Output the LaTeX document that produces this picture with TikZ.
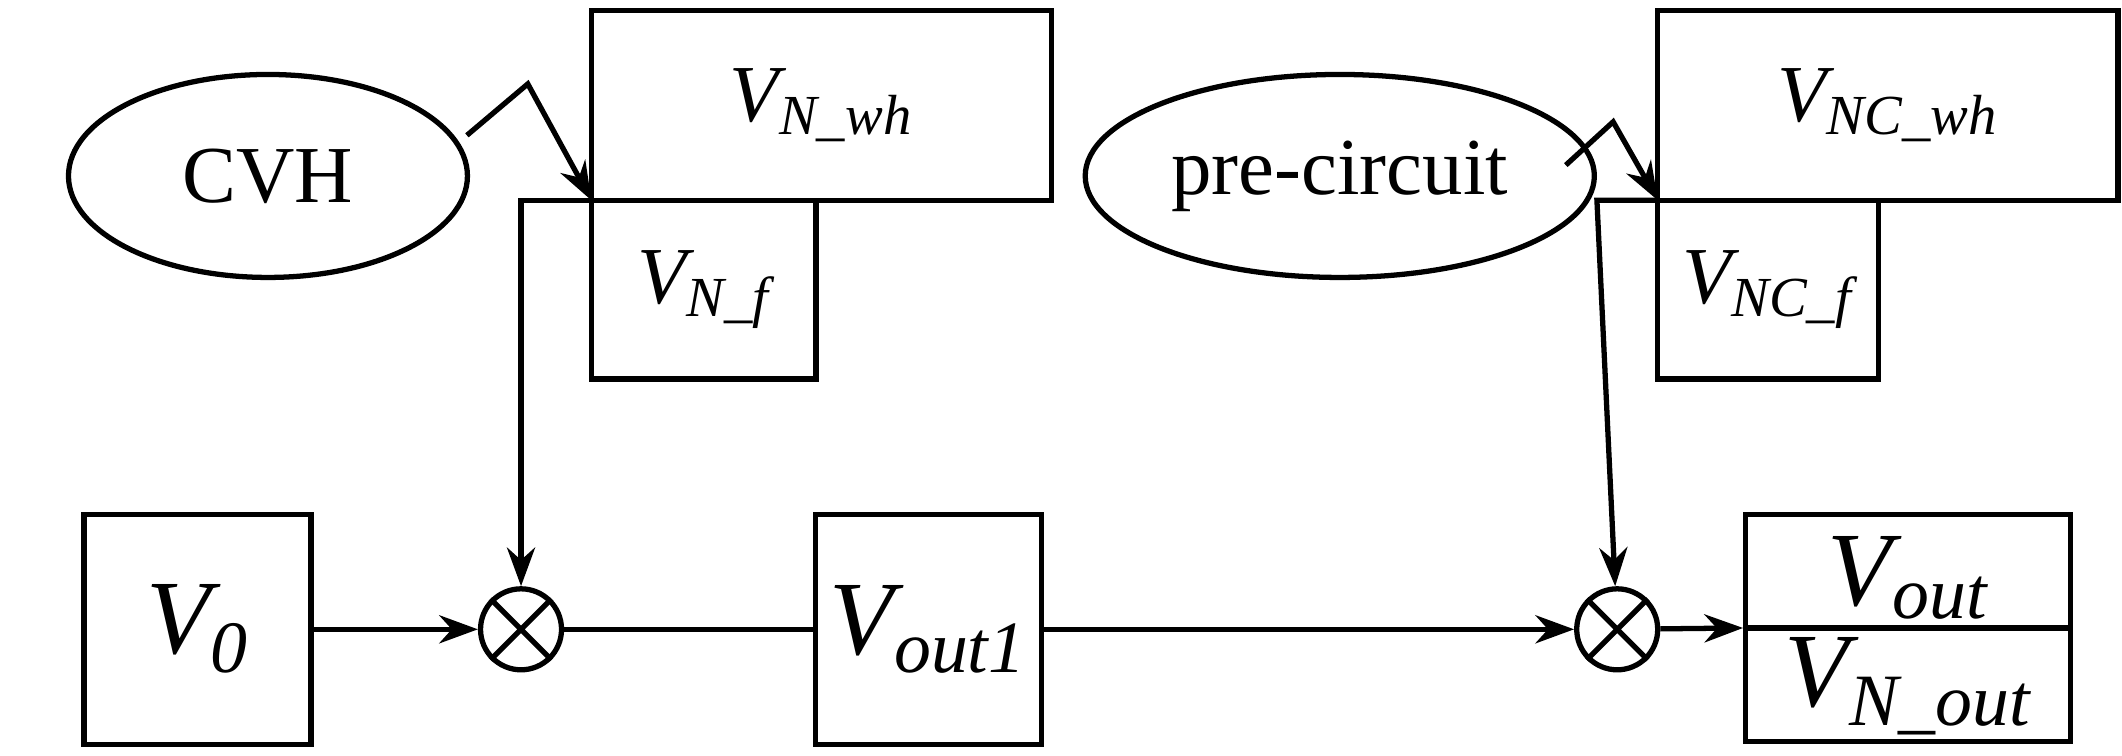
\documentclass[tikz,border=0pt]{standalone}
\usepackage{fontspec}
\setmainfont{Liberation Serif}
\usetikzlibrary{shapes.geometric,arrows.meta}
\begin{document}
\begin{tikzpicture}[x=0.01353cm,y=-0.01353cm,
  box/.style={draw,line width=1.5pt,inner sep=0pt},
  ln/.style={line width=1.5pt},
  ar/.style={ln,-{Stealth[length=11pt,width=8pt]}},
  lbl/.style={font=\fontsize{23}{27}\selectfont\itshape},
  big/.style={font=\fontsize{30}{34}\selectfont\itshape}]
\useasboundingbox (0,0) rectangle (1568,558);
% CVH branch
\node[draw,ellipse,line width=1.5pt,minimum width=3.99cm,minimum height=2.03cm,font=\fontsize{23}{27}\selectfont] (cvh) at (198,130) {CVH};
\draw[box] (437,8) rectangle (777,148);
\node[lbl] (nwh) at (607,78) {V\textsubscript{N\_wh}};
\draw[box] (437,148) rectangle (603,280);
\node[lbl] (nf) at (520,214) {V\textsubscript{N\_f}};
\coordinate (z1) at (345,100);
\coordinate (z2) at (390,62);
\coordinate (t1) at (437,148);
\draw[ar] (z1) -- (z2) -- (t1);
\coordinate (c1) at (385,148);
% pre-circuit branch
\node[draw,ellipse,line width=1.5pt,minimum width=4.47cm,minimum height=2.03cm,font=\fontsize{23}{27}\selectfont] (pc) at (990,130) {pre-circuit};
\draw[box] (1225,8) rectangle (1565,148);
\node[lbl] (ncwh) at (1395,78) {V\textsubscript{NC\_wh}};
\draw[box] (1225,148) rectangle (1388,280);
\node[lbl] (ncf) at (1306,214) {V\textsubscript{NC\_f}};
\coordinate (z3) at (1157,122);
\coordinate (z4) at (1192,90);
\coordinate (t2) at (1225,148);
\draw[ar] (z3) -- (z4) -- (t2);
\coordinate (c2) at (1180,148);
% bottom chain
\node[box,big,minimum width=2.27cm,minimum height=2.30cm] (v0) at (146,465) {V\textsubscript{0}};
\node[draw,circle,line width=1.5pt,minimum size=0.81cm,inner sep=0pt] (m1) at (385,465) {};
\draw[ln] (m1.north west) -- (m1.south east) (m1.north east) -- (m1.south west);
\node[box,big,minimum width=2.26cm,minimum height=2.30cm] (v1) at (686,465) {V\textsubscript{out1}};
\node[draw,circle,line width=1.5pt,minimum size=0.81cm,inner sep=0pt] (m2) at (1195,465) {};
\draw[ln] (m2.north west) -- (m2.south east) (m2.north east) -- (m2.south west);
\node[box,minimum width=3.25cm,minimum height=2.27cm] (vo) at (1410,464) {};
\draw[ln] (vo.west) -- (vo.east);
\node[big] (vout) at (1410,427) {V\textsubscript{out}};
\node[big] (vnout) at (1410,507) {V\textsubscript{N\_out}};
\draw[ar] (v0) -- (m1);
\draw[ln] (m1) -- (v1);
\draw[ar] (v1) -- (m2);
\draw[ar] (m2) -- (vo.west);
\draw[ar] (t1) -- (c1) -- (m1);
\draw[ar] (t2) -- (c2) -- (m2);
\end{tikzpicture}
\end{document}
